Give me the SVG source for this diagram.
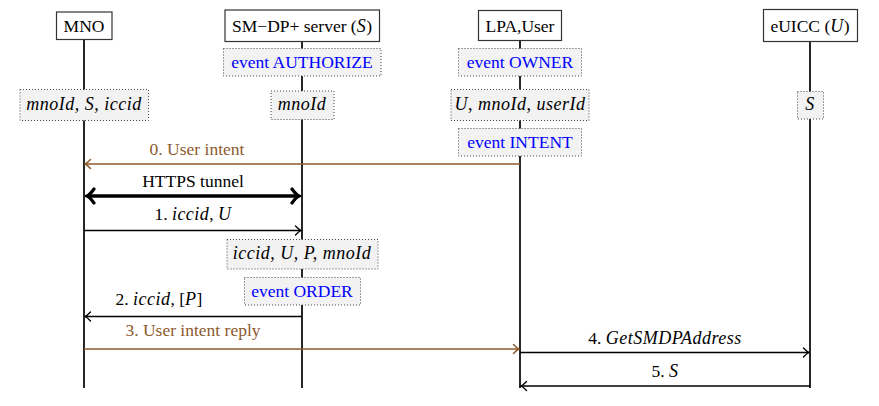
<svg xmlns="http://www.w3.org/2000/svg" width="879" height="406" viewBox="0 0 879 406">
<style>
text{font-family:"Liberation Serif","DejaVu Serif",serif;font-size:17.5px;fill:#000;text-anchor:middle}
.it{font-style:italic;font-size:18px;letter-spacing:0.5px}
.ev{fill:#0000ff}
.br{fill:#8c5a2e}
.head{fill:#fff;stroke:#333;stroke-width:1.2}
.note{fill:#f2f2f2;stroke:#444;stroke-width:1;stroke-dasharray:1 2}
.life{stroke:#000;stroke-width:1.7;fill:none}
.msg{stroke:#000;stroke-width:1.3;fill:none}
.brown{stroke:#8c5a2e;stroke-width:1.5;fill:none}
.thick{stroke:#000;stroke-width:3.4;fill:none}
</style>
<defs>
<marker id="ah" viewBox="-7 -6 8 12" refX="0" refY="0" markerUnits="userSpaceOnUse" markerWidth="8" markerHeight="12" orient="auto-start-reverse">
<path d="M-5.5,-4.5 C-3,-1.8 -1,-0.4 0,0 C-1,0.4 -3,1.8 -5.5,4.5" fill="none" stroke="#000" stroke-width="1.3" stroke-linecap="round"/>
</marker>
<marker id="ahb" viewBox="-7 -6 8 12" refX="0" refY="0" markerUnits="userSpaceOnUse" markerWidth="8" markerHeight="12" orient="auto-start-reverse">
<path d="M-5.5,-4.5 C-3,-1.8 -1,-0.4 0,0 C-1,0.4 -3,1.8 -5.5,4.5" fill="none" stroke="#8c5a2e" stroke-width="1.4" stroke-linecap="round"/>
</marker>
<marker id="aht" viewBox="-10 -9 12 18" refX="0" refY="0" markerUnits="userSpaceOnUse" markerWidth="12" markerHeight="18" orient="auto-start-reverse">
<path d="M-7,-7 C-4,-2.8 -1.5,-0.6 0,0 C-1.5,0.6 -4,2.8 -7,7" fill="none" stroke="#000" stroke-width="3.2" stroke-linecap="round"/>
</marker>
</defs>

<g id="lifelines">
<line class="life" x1="84" y1="39" x2="84" y2="388"/>
<line class="life" x1="302" y1="41" x2="302" y2="388"/>
<line class="life" x1="520" y1="40" x2="520" y2="388"/>
<line class="life" x1="810" y1="41" x2="810" y2="388"/>
</g>

<g id="mno">
<rect class="head" x="56.5" y="12" width="55.5" height="27.5"/>
<text x="84" y="32">MNO</text>
</g>
<g id="smdp">
<rect class="head" x="225" y="10" width="154.5" height="31.5"/>
<text x="302" y="32">SM−DP+ server (<tspan class="it">S</tspan>)</text>
</g>
<g id="lpa">
<rect class="head" x="478.5" y="10.5" width="83" height="30"/>
<text x="520" y="32">LPA,User</text>
</g>
<g id="euicc">
<rect class="head" x="763.5" y="9.5" width="94" height="32"/>
<text x="810" y="32">eUICC (<tspan class="it">U</tspan>)</text>
</g>

<g id="note-authorize">
<rect class="note" x="223.5" y="48.5" width="157.5" height="27.5"/>
<text class="ev" x="302" y="68">event AUTHORIZE</text>
</g>
<g id="note-owner">
<rect class="note" x="458.5" y="48.5" width="123" height="27.5"/>
<text class="ev" x="520" y="68">event OWNER</text>
</g>
<g id="note-mno-state">
<rect class="note" x="20" y="89.5" width="128.5" height="31"/>
<text class="it" x="84" y="110">mnoId, S, iccid</text>
</g>
<g id="note-smdp-state">
<rect class="note" x="271" y="91" width="63" height="28.5"/>
<text class="it" x="302" y="110">mnoId</text>
</g>
<g id="note-lpa-state">
<rect class="note" x="451" y="89.5" width="138" height="31"/>
<text class="it" x="520" y="110">U<tspan font-style="normal">, </tspan>mnoId<tspan font-style="normal">, </tspan>userId</text>
</g>
<g id="note-euicc-state">
<rect class="note" x="797.5" y="91.5" width="26" height="27.5"/>
<text class="it" x="810" y="110">S</text>
</g>
<g id="note-intent">
<rect class="note" x="458.5" y="128.5" width="123" height="27.5"/>
<text class="ev" x="520" y="148">event INTENT</text>
</g>
<g id="note-smdp-state2">
<rect class="note" x="227" y="239.5" width="151" height="29.5"/>
<text class="it" x="302" y="259">iccid, U, P, mnoId</text>
</g>
<g id="note-order">
<rect class="note" x="244.5" y="277.5" width="116" height="27.5"/>
<text class="ev" x="302" y="297">event ORDER</text>
</g>

<g id="connectors">
<line class="brown" x1="520" y1="164" x2="85" y2="164" marker-end="url(#ahb)"/>
<text class="br" x="197" y="154.5">0. User intent</text>

<line class="thick" x1="87" y1="196" x2="299" y2="196" marker-start="url(#aht)" marker-end="url(#aht)"/>
<text x="193" y="187">HTTPS tunnel</text>

<line class="msg" x1="84" y1="230.5" x2="301" y2="230.5" marker-end="url(#ah)"/>
<text x="193" y="219.5">1. <tspan class="it">iccid</tspan>, <tspan class="it">U</tspan></text>

<line class="msg" x1="302" y1="316.5" x2="85" y2="316.5" marker-end="url(#ah)"/>
<text x="159" y="304.5">2. <tspan class="it">iccid</tspan>, [<tspan class="it">P</tspan>]</text>

<line class="brown" x1="84" y1="349" x2="519" y2="349" marker-end="url(#ahb)"/>
<text class="br" x="193" y="336">3. User intent reply</text>

<line class="msg" x1="520" y1="352.5" x2="809" y2="352.5" marker-end="url(#ah)"/>
<text x="665" y="343.5">4. <tspan class="it" letter-spacing="1.6px">GetSMDPAddress</tspan></text>

<line class="msg" x1="810" y1="386" x2="521" y2="386" marker-end="url(#ah)"/>
<text x="665" y="377">5. <tspan class="it">S</tspan></text>
</g>
</svg>
